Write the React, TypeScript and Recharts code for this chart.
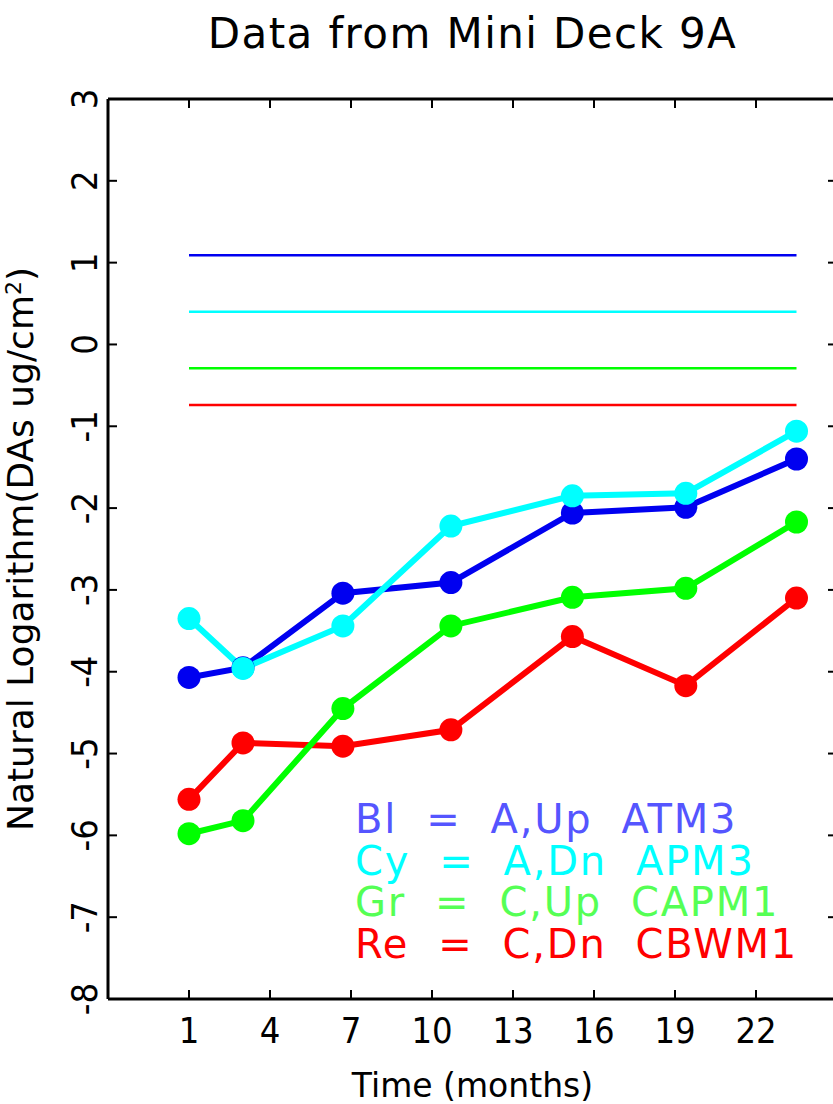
import React from 'react';
import { LineChart, Line, XAxis, YAxis } from 'recharts';

// months at which the deck was sampled
const months = [1, 3, 6.7, 10.7, 15.2, 19.4, 23.5];
const blueValues = [-4.07, -3.95, -3.04, -2.91, -2.06, -1.99, -1.4];
const cyanValues = [-3.35, -3.96, -3.44, -2.22, -1.85, -1.82, -1.06];
const greenValues = [-5.98, -5.82, -4.45, -3.44, -3.09, -2.98, -2.17];
const redValues = [-5.56, -4.87, -4.91, -4.71, -3.57, -4.17, -3.1];

// flat reference levels, drawn across the sampled span
const limitSpan = [1, 23.5];
const blueLimit = 1.09;
const cyanLimit = 0.4;
const greenLimit = -0.29;
const redLimit = -0.74;

const xTicks = [1, 4, 7, 10, 13, 16, 19, 22];
const yTicks = [-8, -7, -6, -5, -4, -3, -2, -1, 0, 1, 2, 3];

const legendLines = [
    { text: 'Bl  =  A,Up  ATM3', color: '#5555ff' },
    { text: 'Cy  =  A,Dn  APM3', color: '#00ffff' },
    { text: 'Gr  =  C,Up  CAPM1', color: '#55ff55' },
    { text: 'Re  =  C,Dn  CBWM1', color: '#ff0000' },
];

const BLUE = '#0000f0';
const CYAN = '#00ffff';
const GREEN = '#00ff00';
const RED = '#ff0000';

const CHART_W = 850;
const CHART_H = 1104;
const PLOT_TOP = 99;
const PLOT_LEFT = 108;
const PLOT_BOTTOM = 999;
const PLOT_RIGHT = 837;
const TICK_LEN = 9;

const DIGIT_FONT = 'Liberation Sans Narrow, DejaVu Sans Condensed, sans-serif';
const TEXT_FONT = 'DejaVu Sans, sans-serif';

const data = months.map((m, i) => ({
    month: m,
    blue: blueValues[i],
    cyan: cyanValues[i],
    green: greenValues[i],
    red: redValues[i],
}));

const limitData = (v: number) => limitSpan.map(m => ({ month: m, v }));

const BottomTick = (props: any) => {
    const { x, payload } = props;
    return (
        <g>
            <line x1={x} x2={x} y1={PLOT_BOTTOM} y2={PLOT_BOTTOM - TICK_LEN} stroke="#000" strokeWidth={2} />
            <text x={x} y={1043} textAnchor="middle" fontSize={36} fontFamily={DIGIT_FONT} fill="#000">
                {payload.value}
            </text>
        </g>
    );
};

const TopTick = (props: any) => {
    const { x } = props;
    return <line x1={x} x2={x} y1={PLOT_TOP} y2={PLOT_TOP + TICK_LEN} stroke="#000" strokeWidth={2} />;
};

const LeftTick = (props: any) => {
    const { y, payload } = props;
    return (
        <g>
            <line x1={PLOT_LEFT} x2={PLOT_LEFT + TICK_LEN} y1={y} y2={y} stroke="#000" strokeWidth={2} />
            <g transform={`translate(97, ${y}) rotate(-90)`}>
                <text x={0} y={0} textAnchor="middle" fontSize={36} fontFamily={DIGIT_FONT} fill="#000">
                    {payload.value}
                </text>
            </g>
        </g>
    );
};

const RightTick = (props: any) => {
    const { y } = props;
    return <line x1={PLOT_RIGHT} x2={PLOT_RIGHT - TICK_LEN} y1={y} y2={y} stroke="#000" strokeWidth={2} />;
};

const series = [
    { key: 'red', color: RED },
    { key: 'green', color: GREEN },
    { key: 'blue', color: BLUE },
    { key: 'cyan', color: CYAN },
];

const limits = [
    { v: redLimit, color: RED },
    { v: greenLimit, color: GREEN },
    { v: cyanLimit, color: CYAN },
    { v: blueLimit, color: BLUE },
];

export default function App() {
    const plotMidX = (PLOT_LEFT + PLOT_RIGHT) / 2;
    const plotMidY = (PLOT_TOP + PLOT_BOTTOM) / 2;
    return (
        <div style={{ position: 'absolute', left: 0, top: 0, width: 833, height: 1104, overflow: 'hidden', background: '#fff' }}>
            <LineChart
                width={CHART_W}
                height={CHART_H}
                data={data}
                margin={{ top: PLOT_TOP - 1, right: CHART_W - PLOT_RIGHT - 1, bottom: 0, left: 0 }}
            >
                <XAxis
                    xAxisId="bottom"
                    type="number"
                    dataKey="month"
                    domain={[-2, 25]}
                    allowDataOverflow
                    ticks={xTicks}
                    interval={0}
                    height={CHART_H - PLOT_BOTTOM}
                    axisLine={{ stroke: '#000', strokeWidth: 3 }}
                    tickLine={false}
                    tick={<BottomTick />}
                />
                <XAxis
                    xAxisId="top"
                    orientation="top"
                    type="number"
                    dataKey="month"
                    domain={[-2, 25]}
                    allowDataOverflow
                    ticks={xTicks}
                    interval={0}
                    height={1}
                    axisLine={{ stroke: '#000', strokeWidth: 3 }}
                    tickLine={false}
                    tick={<TopTick />}
                />
                <YAxis
                    yAxisId="left"
                    type="number"
                    domain={[-8, 3]}
                    allowDataOverflow
                    ticks={yTicks}
                    interval={0}
                    width={PLOT_LEFT}
                    axisLine={{ stroke: '#000', strokeWidth: 3 }}
                    tickLine={false}
                    tick={<LeftTick />}
                />
                <YAxis
                    yAxisId="right"
                    orientation="right"
                    type="number"
                    domain={[-8, 3]}
                    allowDataOverflow
                    ticks={yTicks}
                    interval={0}
                    width={1}
                    axisLine={{ stroke: '#000', strokeWidth: 3 }}
                    tickLine={false}
                    tick={<RightTick />}
                />

                {limits.map(l => (
                    <Line
                        key={'lim' + l.v}
                        xAxisId="bottom"
                        yAxisId="left"
                        data={limitData(l.v)}
                        dataKey="v"
                        stroke={l.color}
                        strokeWidth={2.5}
                        dot={false}
                        isAnimationActive={false}
                    />
                ))}

                {series.map(s => (
                    <Line
                        key={s.key}
                        xAxisId="bottom"
                        yAxisId="left"
                        dataKey={s.key}
                        stroke={s.color}
                        strokeWidth={6}
                        dot={{ r: 11.5, fill: s.color, stroke: 'none' }}
                        activeDot={false}
                        isAnimationActive={false}
                    />
                ))}

                <text
                    x={plotMidX}
                    y={48}
                    textAnchor="middle"
                    fontSize={42}
                    letterSpacing={1.4}
                    fontFamily={TEXT_FONT}
                    fill="#000"
                >
                    Data from Mini Deck 9A
                </text>
                <text x={plotMidX} y={1097} textAnchor="middle" fontSize={33} fontFamily={TEXT_FONT} fill="#000">
                    Time (months)
                </text>
                <g transform={`translate(33, ${plotMidY}) rotate(-90)`}>
                    <text x={0} y={0} textAnchor="middle" fontSize={36} fontFamily={TEXT_FONT} fill="#000">
                        <tspan>Natural Logarithm(DAs ug/cm</tspan>
                        <tspan dy={-12} fontSize={22}>2</tspan>
                        <tspan dy={12}>)</tspan>
                    </text>
                </g>
                {legendLines.map((l, i) => (
                    <text
                        key={l.text}
                        x={355}
                        y={833 + i * 41.7}
                        fontSize={40}
                        letterSpacing={1.8}
                        fontFamily={TEXT_FONT}
                        fill={l.color}
                        xmlSpace="preserve"
                        style={{ whiteSpace: 'pre' }}
                    >
                        {l.text}
                    </text>
                ))}
            </LineChart>
        </div>
    );
}
